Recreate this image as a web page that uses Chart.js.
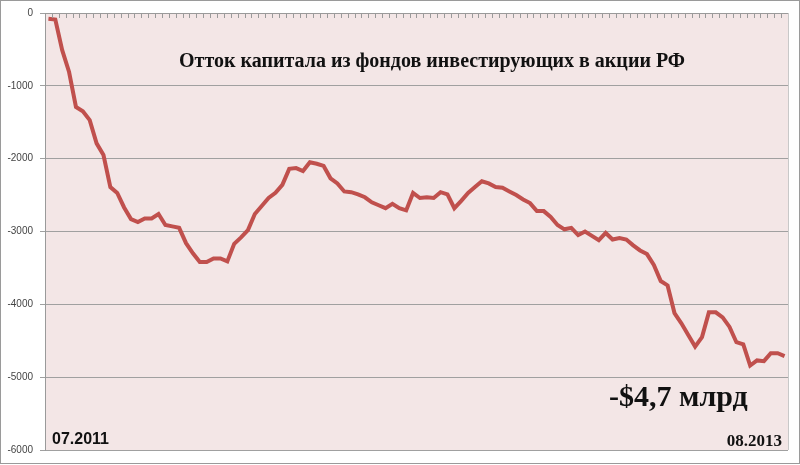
<!DOCTYPE html>
<html>
<head>
<meta charset="utf-8">
<script src="https://cdn.jsdelivr.net/npm/chart.js@4/dist/chart.umd.min.js"></script>
<style>
  html, body { margin: 0; padding: 0; background: #fff; }
  #wrap { width: 800px; height: 465px; position: relative; }
</style>
</head>
<body>
<div id="wrap"><canvas id="outflow-chart"></canvas></div>
<script>
'use strict';

/*===== Données (millions $, cumul hebdomadaire) =====*/
const outflow = [
  -80, -90, -510, -810, -1290, -1350, -1470, -1790, -1950, -2390,
  -2470, -2670, -2830, -2870, -2820, -2820, -2760, -2910, -2930, -2950,
  -3160, -3300, -3420, -3420, -3370, -3370, -3410, -3170, -3080, -2980,
  -2760, -2650, -2540, -2470, -2360, -2140, -2130, -2170, -2050, -2070,
  -2100, -2270, -2340, -2450, -2460, -2490, -2530, -2600, -2640, -2680,
  -2620, -2680, -2710, -2470, -2540, -2530, -2540, -2460, -2490, -2680,
  -2580, -2470, -2390, -2310, -2340, -2390, -2400, -2450, -2500, -2560,
  -2610, -2720, -2720, -2800, -2910, -2970, -2950, -3050, -3000, -3060,
  -3120, -3020, -3110, -3090, -3110, -3190, -3260, -3310, -3460, -3680,
  -3740, -4120, -4260, -4420, -4580, -4450, -4110, -4110, -4180, -4310,
  -4520, -4550, -4840, -4770, -4780, -4670, -4670, -4710
];
const weeks = outflow.map((v, i) => 'S' + (i + 1));
const yTicks = [0, -1000, -2000, -3000, -4000, -5000, -6000];

const chartTitle = 'Отток капитала из фондов инвестирующих в акции РФ';
const lastValueText = '-$4,7 млрд';
const startText = '07.2011';
const endText = '08.2013';

/*===== Fond rose, petites graduations du haut, textes =====*/
const decorPlugin = {
  id: 'decor',
  beforeDraw(chart) {
    const { ctx, chartArea: a } = chart;
    ctx.save();
    ctx.fillStyle = 'rgb(243, 230, 230)';
    ctx.fillRect(a.left, a.top, a.right - a.left, a.bottom - a.top);
    ctx.restore();
  },
  afterDraw(chart) {
    const { ctx, chartArea: a, scales } = chart;
    const x = scales.x;
    const step = x.getPixelForValue(1) - x.getPixelForValue(0);
    ctx.save();
    // graduations vers l'intérieur sur l'axe des abscisses (y = 0)
    const y0 = scales.y.getPixelForValue(0);
    ctx.strokeStyle = '#9a9a9a';
    ctx.lineWidth = 1;
    ctx.beginPath();
    for (let i = 0; i <= weeks.length; i++) {
      const px = Math.round(x.getPixelForValue(0) - step / 2 + i * step) + 0.5;
      ctx.moveTo(px, y0);
      ctx.lineTo(px, y0 + 5);
    }
    ctx.moveTo(a.left, y0 + 0.5);
    ctx.lineTo(a.right, y0 + 0.5);
    ctx.stroke();
    // bord droit
    ctx.strokeStyle = '#c8c8c8';
    ctx.beginPath();
    ctx.moveTo(a.right + 0.5, a.top);
    ctx.lineTo(a.right + 0.5, a.bottom);
    ctx.stroke();

    ctx.fillStyle = '#111';
    ctx.textBaseline = 'alphabetic';
    ctx.font = 'bold 20px "Liberation Serif"';
    ctx.textAlign = 'center';
    ctx.fillText(chartTitle, 432, 67);

    ctx.font = 'bold 30px "Liberation Serif"';
    ctx.textAlign = 'left';
    ctx.fillText(lastValueText, 609, 406);

    ctx.font = 'bold 16px "Liberation Sans"';
    ctx.fillText(startText, 52, 444);

    ctx.font = 'bold 17px "Liberation Serif"';
    ctx.textAlign = 'right';
    ctx.fillText(endText, 782, 446);

    // cadre extérieur
    ctx.strokeStyle = '#9a9a9a';
    ctx.strokeRect(0.5, 0.5, 799, 463);
    ctx.restore();
  }
};

const ctx = document.getElementById('outflow-chart').getContext('2d');

const myLineChart = new Chart(ctx, {
  type: 'line',
  data: {
    labels: weeks,
    datasets: [{
      label: 'Отток',
      data: outflow,
      borderColor: 'rgb(192, 80, 77)',
      borderWidth: 4,
      pointRadius: 0,
      tension: 0,
      fill: false
    }]
  },
  options: {
    responsive: true,
    maintainAspectRatio: false,
    animation: false,
    layout: {
      padding: { left: 0, top: 13, right: 12, bottom: 15 }
    },
    plugins: {
      legend: { display: false },
      title: { display: false },
      tooltip: { enabled: false }
    },
    scales: {
      x: {
        display: false,
        offset: true
      },
      y: {
        min: -6000,
        max: 0,
        afterFit(scale) { scale.width = 45; },
        afterBuildTicks(scale) {
          scale.ticks = yTicks.map(v => ({ value: v }));
        },
        border: { color: '#9a9a9a' },
        grid: {
          color: '#a0a0a0',
          tickLength: 5
        },
        ticks: {
          color: '#444',
          padding: 7,
          font: { family: 'Liberation Sans', size: 10 },
          callback: value => String(value)
        }
      }
    }
  },
  plugins: [decorPlugin]
});
</script>
</body>
</html>
